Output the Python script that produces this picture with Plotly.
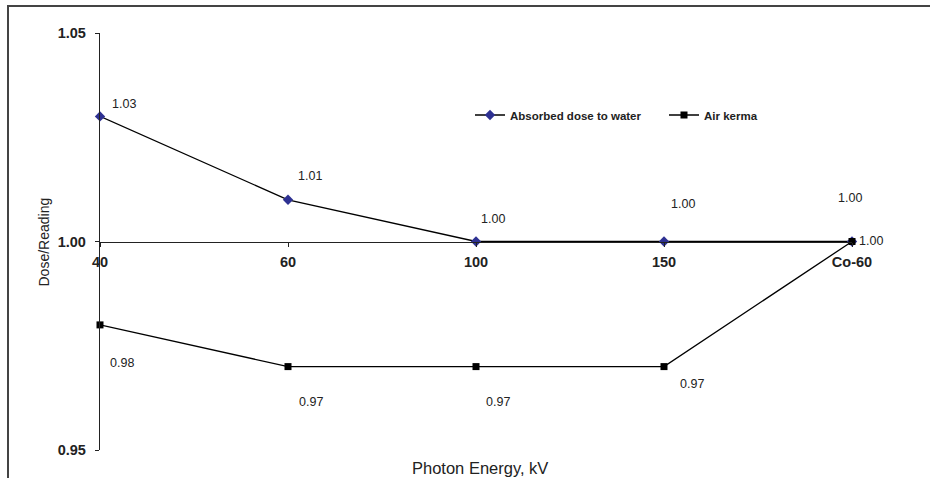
import plotly.graph_objects as go

# ---- data ----
categories = ["40", "60", "100", "150", "Co-60"]
water_values = [1.03, 1.01, 1.00, 1.00, 1.00]
air_kerma_values = [0.98, 0.97, 0.97, 0.97, 1.00]
y_tick_values = [0.95, 1.00, 1.05]
y_tick_labels = ["0.95", "1.00", "1.05"]
series_names = ["Absorbed dose to water", "Air kerma"]
x_title = "Photon Energy, kV"
y_title = "Dose/Reading"

# ---- styles ----
FONT = "Liberation Sans, Arial, sans-serif"
W, H = 930, 478
L, T = 100, 33
plot_w, plot_h = 752, 417
R = W - L - plot_w
B = H - T - plot_h


def px_x(page_x):
    return (page_x - L) / plot_w


def px_y(page_y):
    return (T + plot_h - page_y) / plot_h


# label offsets (pixels) for data labels (style only)
water_offsets = [(10, 12), (8, 24), (3, 23), (5, 38), (-16, 44)]
air_offsets = [(8, -38), (9, -35), (8, -35), (14, -17), (5, 1)]

xi = list(range(len(categories)))

fig = go.Figure()
fig.add_trace(go.Scatter(
    x=xi, y=water_values, name=series_names[0],
    mode="lines+markers",
    line=dict(color="black", width=1.3),
    marker=dict(symbol="diamond", size=8, color="#2E3192"),
    cliponaxis=False,
))
fig.add_trace(go.Scatter(
    x=xi, y=air_kerma_values, name=series_names[1],
    mode="lines+markers",
    line=dict(color="black", width=1.3),
    marker=dict(symbol="square", size=7, color="black"),
    cliponaxis=False,
))

annotations = []
for vals, offs in ((water_values, water_offsets), (air_kerma_values, air_offsets)):
    for i, v, (dx, dy) in zip(xi, vals, offs):
        annotations.append(dict(
            x=i, y=v, xref="x", yref="y", text=f"{v:.2f}", showarrow=False,
            xanchor="left", yanchor="middle", xshift=dx, yshift=dy,
            font=dict(family=FONT, size=12.5, color="#222"),
        ))

# axis titles
annotations.append(dict(
    x=px_x(43), y=0.5, xref="paper", yref="paper", text=y_title,
    textangle=-90, showarrow=False, xanchor="center", yanchor="middle",
    font=dict(family=FONT, size=14, color="#222"),
))
annotations.append(dict(
    x=px_x(480), y=px_y(468), xref="paper", yref="paper",
    text=x_title, showarrow=False, xanchor="center", yanchor="middle",
    font=dict(family=FONT, size=16.5, color="#222"),
))

fig.update_layout(
    width=W, height=H,
    margin=dict(l=L, r=R, t=T, b=B, autoexpand=False),
    paper_bgcolor="white", plot_bgcolor="white",
    font=dict(family=FONT, color="#222"),
    showlegend=True,
    legend=dict(
        orientation="h", x=px_x(470), y=px_y(115),
        xanchor="left", yanchor="middle", bgcolor="rgba(0,0,0,0)",
        font=dict(family=FONT, size=11.5, color="#222", weight="bold"),
        itemwidth=30, traceorder="normal",
        entrywidth=149, entrywidthmode="pixels",
    ),
    xaxis=dict(
        range=[0, 4], anchor="free", position=0.5,
        tickvals=xi, ticktext=categories,
        showline=True, linecolor="#222", linewidth=1.3,
        ticks="outside", ticklen=4, tickcolor="#222", tickwidth=1,
        showgrid=False, zeroline=False, ticklabelstandoff=3,
        tickfont=dict(family=FONT, size=14.5, color="#222", weight="bold"),
    ),
    yaxis=dict(
        range=[0.95, 1.05], tickvals=y_tick_values, ticktext=y_tick_labels,
        showline=True, linecolor="#222", linewidth=1.3,
        ticks="outside", ticklen=4, tickcolor="#222", tickwidth=1,
        showgrid=False, zeroline=False, ticklabelstandoff=6,
        tickfont=dict(family=FONT, size=14.5, color="#222", weight="bold"),
    ),
    annotations=annotations,
    shapes=[dict(
        type="rect", xref="paper", yref="paper", layer="above",
        x0=px_x(8), x1=px_x(960),
        y0=px_y(510), y1=px_y(6),
        line=dict(color="#444", width=2), fillcolor="rgba(0,0,0,0)",
    )],
)

fig.write_html(
    "out.html",
    config={"displayModeBar": False},
    post_script="document.body.style.margin='0';document.body.style.overflow='hidden';",
)
